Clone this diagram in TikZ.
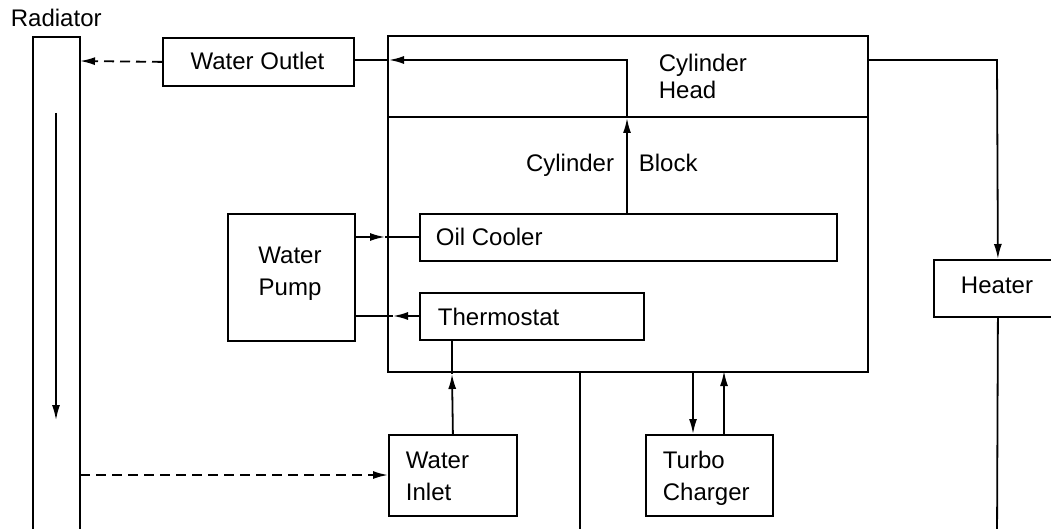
\documentclass[tikz,border=0pt]{standalone}
\usepackage{fontspec}
\setmainfont{Liberation Sans}
\usetikzlibrary{arrows.meta}
\begin{document}
\begin{tikzpicture}[x=1pt,y=-1pt,
  line width=1.8pt,
  box/.style={draw, line width=1.8pt, inner sep=0pt, anchor=north west},
  lbl/.style={inner sep=0pt, font=\fontsize{24}{32}\selectfont, align=left},
  arr/.style={-{Latex[length=15pt,width=8pt]}},
  dsh/.style={dash pattern=on 10pt off 6pt}]
\useasboundingbox (0,0) rectangle (1051,529);

% Radiator (open at the bottom)
\coordinate (radBL) at (33,540);
\coordinate (radTL) at (33,37);
\coordinate (radTR) at (80,37);
\coordinate (radBR) at (80,540);
\draw (radBL) -- (radTL) -- (radTR) -- (radBR);
\node[lbl, anchor=base west] (radlbl) at (10,27) {Radiator};
\coordinate (radA) at (56,113);
\coordinate (radB) at (56,420);
\draw[arr, line width=1.5pt] (radA) -- (radB);
\coordinate (radOut) at (80,61);
\coordinate (radIn) at (80,475);

% Boxes
\node[box, minimum width=191pt, minimum height=48pt] (wo) at (162,37) {};
\node[lbl, anchor=base] (wolbl) at (257.5,70) {Water Outlet};

\node[box, minimum width=480pt, minimum height=336pt] (eng) at (387,35) {};
\coordinate (divL) at (387,117);
\coordinate (divR) at (867,117);
\draw (divL) -- (divR);
\node[lbl, anchor=base west, font=\fontsize{24}{27}\selectfont] (chlbl) at (658,99) {Cylinder\\Head};
\node[lbl, anchor=base east] (cyl) at (615,172) {Cylinder};
\node[lbl, anchor=base west] (blk) at (638,172) {Block};

\node[box, minimum width=417pt, minimum height=47pt] (oc) at (419,213) {};
\node[lbl, anchor=base west] (oclbl) at (435,245) {Oil Cooler};

\node[box, minimum width=224pt, minimum height=47pt] (th) at (419,292) {};
\node[lbl, anchor=base west] (thlbl) at (437,325) {Thermostat};

\node[box, minimum width=127pt, minimum height=127pt] (wp) at (227,213) {};
\node[lbl, anchor=base, align=center] (wplbl) at (290,295) {Water\\Pump};

\node[box, minimum width=128pt, minimum height=81pt] (wi) at (388,434) {};
\node[lbl, anchor=base west] (wilbl) at (405,500) {Water\\Inlet};

\node[box, minimum width=127pt, minimum height=81pt] (tc) at (645,434) {};
\node[lbl, anchor=base west] (tclbl) at (662,500) {Turbo\\Charger};

\node[box, minimum width=128pt, minimum height=57pt] (ht) at (933,259) {};
\node[lbl, anchor=base] (htlbl) at (997,293) {Heater};

% Connectors
\draw[arr, dsh] (wo.west) -- (radOut);

\coordinate (ocT) at (627,213);
\coordinate (upTip) at (627,118);
\coordinate (hdTurn) at (627,60);
\coordinate (leftTip) at (389,60);
\draw[arr] (ocT) -- (upTip);
\draw[arr] (upTip) -- (hdTurn) -- (leftTip);
\draw (leftTip) -- (wo.east |- leftTip);

\coordinate (engR) at (867,60);
\coordinate (htTurn) at (997,60);
\draw[arr] (engR) -- (htTurn) -- (ht.north);
\coordinate (htDown) at (997,540);
\draw (ht.south) -- (htDown);

\coordinate (a1) at (385,237);
\draw[arr] (wp.east |- a1) -- (a1);
\draw (a1) -- (oc.west |- a1);

\coordinate (a2) at (393,316);
\draw[arr] (th.west |- a2) -- (a2);
\draw (a2) -- (wp.east |- a2);

\coordinate (a3) at (452,374);
\draw[arr] (wi.north) -- (a3);
\draw (a3) -- (th.south -| a3);

\draw[arr, dsh] (radIn) -- (wi.west |- radIn);

\coordinate (t1) at (693,371);
\draw[arr] (t1) -- (tc.north -| t1);
\coordinate (t2) at (724,371);
\draw[arr] (tc.north -| t2) -- (t2);

\coordinate (eb) at (580,371);
\coordinate (ebDown) at (580,540);
\draw (eb) -- (ebDown);
\end{tikzpicture}
\end{document}
